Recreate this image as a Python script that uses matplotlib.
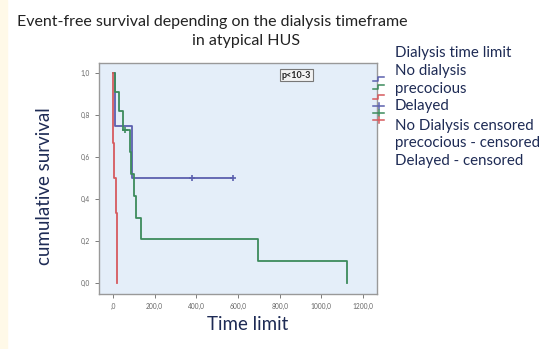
import matplotlib
matplotlib.use("Agg")
import matplotlib.pyplot as plt
from matplotlib.lines import Line2D

# Kaplan-Meier step data
no_dialysis_t = [0, 12, 90, 578]
no_dialysis_s = [1.0, 0.75, 0.5, 0.5]
no_dialysis_cens_t = [380, 578]
no_dialysis_cens_s = [0.5, 0.5]

precocious_t = [0, 10, 30, 50, 80, 87, 99, 112, 133, 696, 1123]
precocious_s = [1.0, 0.909, 0.818, 0.727, 0.623, 0.519, 0.416, 0.312, 0.208, 0.104, 0.0]
precocious_cens_t = [60]
precocious_cens_s = [0.727]

delayed_t = [0, 1, 2, 5, 13, 17, 19]
delayed_s = [1.0, 0.833, 0.667, 0.5, 0.333, 0.167, 0.0]

x_ticks = [0, 200, 400, 600, 800, 1000, 1200]
x_labels = [",0", "200,0", "400,0", "600,0", "800,0", "1000,0", "1200,0"]
y_ticks = [0, 0.2, 0.4, 0.6, 0.8, 1.0]
y_labels = ["0,0", "0,2", "0,4", "0,6", "0,8", "1,0"]

legend_labels = ["Dialysis time limit", "No dialysis", "precocious", "Delayed",
                 "No Dialysis censored", "precocious - censored", "Delayed - censored"]

blue = "#5B60AE"
green = "#3C8B5C"
red = "#D65A5E"
navy = "#1E2B55"

W, H = 550, 349
fig = plt.figure(figsize=(5.5, 3.49), dpi=100)
fig.patch.set_facecolor("white")
plt.rcParams['font.family'] = ['Lato', 'DejaVu Sans']

# faint cream strip on the left edge
fig.patches.append(plt.Rectangle((0, 0), 7 / W, 1, transform=fig.transFigure,
                                 color="#FFF9E8", zorder=0))

ax = fig.add_axes([99 / W, 1 - 294 / H, 278 / W, 231 / H])
ax.set_facecolor("#E4EEF9")

ax.step(no_dialysis_t, no_dialysis_s, where="post", color=blue, lw=1.3)
ax.step(precocious_t, precocious_s, where="post", color=green, lw=1.3)
ax.step(delayed_t, delayed_s, where="post", color=red, lw=1.3)
ax.plot(no_dialysis_cens_t, no_dialysis_cens_s, "+", color=blue, ms=5, mew=1.2)
ax.plot(precocious_cens_t, precocious_cens_s, "+", color=green, ms=5, mew=1.2)

ax.set_xlim(-67, 1267)
ax.set_ylim(-0.052, 1.048)
ax.set_xticks(x_ticks)
ax.set_xticklabels(x_labels)
ax.set_yticks(y_ticks)
ax.set_yticklabels(y_labels)
ax.tick_params(labelsize=4.8, colors="#666666", length=3, width=0.6)
for s in ax.spines.values():
    s.set_color("#999999")
    s.set_linewidth(1.0)

ax.text(0.709, 0.948, "p<10-3", transform=ax.transAxes, fontsize=6.5, fontweight="bold",
        color="#222222", ha="center", va="center",
        bbox=dict(boxstyle="square,pad=0.2", fc="#F2F2F2", ec="#777777", lw=0.8))

fig.text(212 / W, 1 - 22 / H, "Event-free survival depending on the dialysis timeframe",
         fontsize=11.5, color="#222222", ha="center", va="center")
fig.text(246 / W, 1 - 41 / H, "in atypical HUS", fontsize=11.5, color="#222222",
         ha="center", va="center")
fig.text(248 / W, 1 - 325 / H, "Time limit", fontsize=13.5, color=navy,
         ha="center", va="center")
fig.text(45 / W, 1 - 186 / H, "cumulative survival", fontsize=13.5, color=navy,
         ha="center", va="center", rotation=90)

# legend text
ys = [53, 71, 89, 106, 126, 143, 161]
for lab, y in zip(legend_labels, ys):
    fig.text(395 / W, 1 - y / H, lab, fontsize=10.8, color=navy, ha="left", va="center")

# legend glyphs: small step icons and censor plusses
def step_icon(y, c):
    xs = [373, 378, 378, 384]
    yy = [y + 2, y + 2, y - 2, y - 2]
    fig.lines.append(Line2D([x / W for x in xs], [1 - v / H for v in yy],
                            transform=fig.transFigure, color=c, lw=1.1))

def plus_icon(y, c):
    fig.lines.append(Line2D([373 / W, 384 / W], [1 - y / H, 1 - y / H],
                            transform=fig.transFigure, color=c, lw=1.1))
    fig.lines.append(Line2D([378.5 / W, 378.5 / W], [1 - (y - 3) / H, 1 - (y + 3) / H],
                            transform=fig.transFigure, color=c, lw=1.1))

step_icon(79, blue)
step_icon(87, green)
step_icon(97, red)
plus_icon(106, blue)
plus_icon(113, green)
plus_icon(120, red)

fig.savefig("out.png", dpi=100)
